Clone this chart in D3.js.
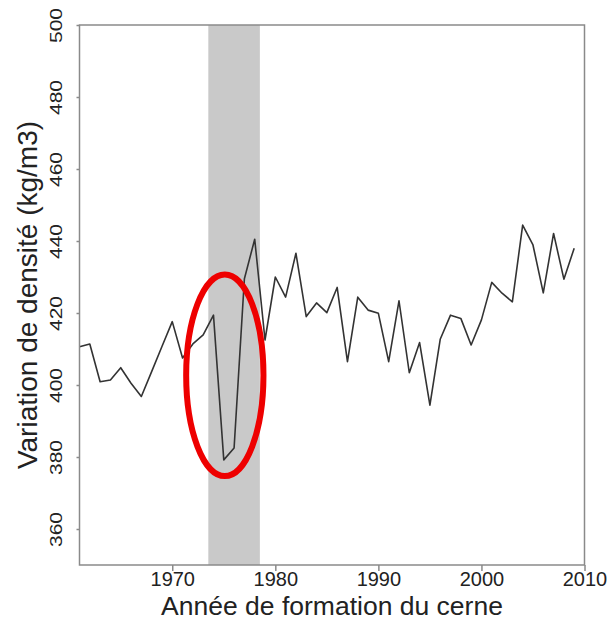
<!DOCTYPE html>
<html>
<head>
<meta charset="utf-8">
<script src="https://cdn.jsdelivr.net/npm/d3@7"></script>
<style>
  body { margin: 0; background: #fff; }
  text { font-family: "Liberation Sans", Arial, sans-serif; fill: #222; }
</style>
</head>
<body>
<svg id="chart"></svg>
<script>
const w = 610;
const h = 622;
const margin = { top: 25, right: 25.5, bottom: 57, left: 79.5 };

// yearly density values
const years = d3.range(1961, 2010);
const density = [
  410.6, 411.4, 400.9, 401.4, 404.8, 400.5, 396.8, 403.7, 410.7, 417.6,
  407.5, 411.4, 413.9, 419.4, 379.2, 382.5, 429.5, 440.5, 412.5, 430.0,
  424.4, 436.6, 419.0, 422.8, 420.1, 427.1, 406.5, 424.4, 420.8, 419.9,
  406.5, 423.4, 403.4, 411.8, 394.4, 412.7, 419.4, 418.5, 411.1, 418.1,
  428.5, 425.5, 423.1, 444.4, 438.9, 425.6, 442.1, 429.4, 438.0
];

const xDomain = [1961, 2010];
const yDomain = [350, 500];
const xTicks = [1970, 1980, 1990, 2000, 2010];
const yTicks = [360, 380, 400, 420, 440, 460, 480, 500];

// shaded period and highlighted dip
const band = [1973.5, 1978.5];
const highlight = { year: 1975.1, value: 402.7, dYear: 3.75, dValue: 28 };

const svg = d3.select("#chart")
  .attr("width", w)
  .attr("height", h);

const x = d3.scaleLinear()
  .domain(xDomain)
  .range([margin.left, w - margin.right]);

const y = d3.scaleLinear()
  .domain(yDomain)
  .range([h - margin.bottom, margin.top]);

svg.append("rect")
  .attr("x", x(band[0]))
  .attr("y", margin.top)
  .attr("width", x(band[1]) - x(band[0]))
  .attr("height", h - margin.bottom - margin.top)
  .attr("fill", "#c9c9c9");

const line = d3.line()
  .x((d, i) => x(years[i]))
  .y(d => y(d));

svg.append("path")
  .datum(density)
  .attr("d", line)
  .attr("fill", "none")
  .attr("stroke", "#333")
  .attr("stroke-width", 1.6)
  .attr("stroke-linejoin", "round");

// box
svg.append("rect")
  .attr("x", margin.left)
  .attr("y", margin.top)
  .attr("width", w - margin.right - margin.left)
  .attr("height", h - margin.bottom - margin.top)
  .attr("fill", "none")
  .attr("stroke", "#8a8a8a")
  .attr("stroke-width", 1.5);

const xAxis = d3.axisBottom(x)
  .tickValues(xTicks)
  .tickFormat(d3.format("d"))
  .tickSize(6)
  .tickPadding(1);

const gx = svg.append("g")
  .attr("transform", `translate(0, ${h - margin.bottom})`)
  .call(xAxis);
gx.select(".domain").remove();
gx.selectAll("line").attr("stroke", "#8a8a8a").attr("stroke-width", 1.5);
gx.selectAll("text")
  .attr("font-size", 20)
  .attr("fill", "#2a2a2a")
  .attr("font-family", "Liberation Sans, Arial, sans-serif");

const yAxis = d3.axisLeft(y)
  .tickValues(yTicks)
  .tickSize(3)
  .tickFormat(d3.format("d"));

const gy = svg.append("g")
  .attr("transform", `translate(${margin.left}, 0)`)
  .call(yAxis);
gy.select(".domain").remove();
gy.selectAll("line").attr("stroke", "#8a8a8a").attr("stroke-width", 1.5);
gy.selectAll("text")
  .attr("font-size", 20)
  .attr("fill", "#2a2a2a")
  .attr("font-family", "Liberation Sans, Arial, sans-serif")
  .attr("text-anchor", "middle")
  .attr("dy", 0)
  .attr("x", 0)
  .attr("transform", "translate(-18, 0) rotate(-90) scale(1.05, 0.85)");

svg.append("ellipse")
  .attr("cx", x(highlight.year))
  .attr("cy", y(highlight.value))
  .attr("rx", x(highlight.year + highlight.dYear) - x(highlight.year))
  .attr("ry", y(highlight.value - highlight.dValue) - y(highlight.value))
  .attr("fill", "none")
  .attr("stroke", "#ee0000")
  .attr("stroke-width", 6);

svg.append("text")
  .attr("x", (margin.left + w - margin.right) / 2)
  .attr("y", 615)
  .attr("text-anchor", "middle")
  .attr("font-size", 26.5)
  .text("Année de formation du cerne");

svg.append("text")
  .attr("transform", `translate(37, ${(margin.top + h - margin.bottom) / 2}) rotate(-90)`)
  .attr("text-anchor", "middle")
  .attr("font-size", 28)
  .text("Variation de densité (kg/m3)");
</script>
</body>
</html>
